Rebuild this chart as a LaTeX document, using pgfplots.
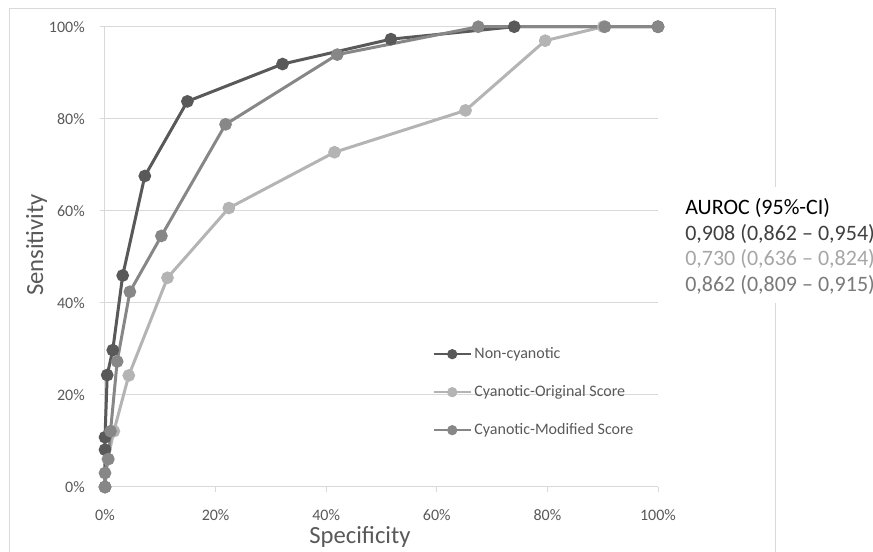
\documentclass[border=0pt]{standalone}
\usepackage{fontspec}
\setmainfont{Carlito}
\usepackage{pgfplots}
\pgfplotsset{compat=1.18}
\definecolor{cDark}{HTML}{595959}
\definecolor{cMid}{HTML}{878787}
\definecolor{cLight}{HTML}{B4B4B4}
\definecolor{cGrid}{HTML}{D9D9D9}
\definecolor{cText}{HTML}{595959}
\begin{document}
\begin{tikzpicture}
\begin{axis}[
  scale only axis, width=414.75pt, height=345.2pt,
  xmin=0, xmax=100, ymin=0, ymax=100,
  axis lines*=left,
  axis line style={cGrid, line width=0.75pt},
  xtick={0,20,40,60,80,100}, ytick={0,20,40,60,80,100},
  xticklabels={0\%,20\%,40\%,60\%,80\%,100\%},
  yticklabels={0\%,20\%,40\%,60\%,80\%,100\%},
  tick align=outside, major tick length=3.75pt,
  tick style={cGrid, line width=0.75pt},
  ymajorgrids, grid style={cGrid, line width=0.75pt},
  tick label style={font=\fontsize{12}{14}\selectfont, text=cText},
  xticklabel style={inner sep=0pt, anchor=north, yshift=-12.75pt},
  yticklabel style={inner sep=0pt, anchor=east, xshift=-11.25pt},
  xlabel={Specificity}, ylabel={Sensitivity},
  label style={font=\fontsize{18.5}{22}\selectfont, text=cText},
  xlabel style={at={(rel axis cs:0.461,-0.1217)}, anchor=base},
  ylabel style={at={(rel axis cs:-0.1121,0.5257)}, anchor=base},
  clip=false,
  legend style={at={(axis cs:59.2,20.6)}, anchor=west, draw=none, fill=none,
    inner sep=0pt, row sep=12.5pt,
    font=\fontsize{12}{14}\selectfont, text=cText,
    nodes={inner sep=2pt, text height=9pt, text depth=3pt}},
  legend cell align=left,
  legend image code/.code={\draw[mark repeat=2,mark phase=2] plot coordinates {(0pt,0pt) (13.9pt,0pt) (27.75pt,0pt)};},
]
% legend entries
\addlegendimage{cDark, line width=1.6pt, mark=*, mark size=3pt, mark options={solid}}
\addlegendentry{Non-cyanotic}
\addlegendimage{cLight, line width=1.6pt, mark=*, mark size=3pt, mark options={solid}}
\addlegendentry{Cyanotic-Original Score}
\addlegendimage{cMid, line width=1.6pt, mark=*, mark size=3pt, mark options={solid}}
\addlegendentry{Cyanotic-Modified Score}
% Cyanotic-Original Score
\addplot[forget plot, cLight, line width=2.25pt, mark=*, mark size=3.6pt, mark options={solid}] coordinates {
 (0,0) (0.5,6.06) (1.6,12.12) (4.3,24.24) (11.3,45.45) (22.4,60.61) (41.5,72.73) (65.2,81.82) (79.6,96.97) (90.1,100) (100,100)};
% Non-cyanotic
\addplot[forget plot, cDark, line width=2.25pt, mark=*, mark size=3.6pt, mark options={solid}] coordinates {
 (0,0) (0,8.11) (0,10.81) (0.4,24.32) (1.4,29.73) (3.2,45.95) (7.2,67.57) (14.9,83.78) (32.1,91.89) (51.7,97.30) (74.0,100) (100,100)};
% Cyanotic-Modified Score
\addplot[forget plot, cMid, line width=2.25pt, mark=*, mark size=3.6pt, mark options={solid}] coordinates {
 (0,0) (0,3.03) (0.6,6.06) (1.0,12.12) (2.2,27.27) (4.5,42.42) (10.2,54.55) (21.8,78.79) (42.0,93.94) (67.5,100) (90.4,100) (100,100)};
\end{axis}
\begin{scope}[x=0.75pt,y=0.75pt]
\draw[cGrid, line width=0.75pt] (-95,-90) rectangle (670,478);
\fill[white] (575,184) rectangle (768,300);
\begin{scope}[every node/.style={anchor=base west, inner sep=0pt, font=\fontsize{16.5}{19}\selectfont}]
\node[text=black] at (580,272) {AUROC (95\%-CI)};
\node[text=black!75] at (580,246.3) {0,908 (0,862 – 0,954)};
\node[text=black!35] at (580,221) {0,730 (0,636 – 0,824)};
\node[text=black!52] at (580,195.3) {0,862 (0,809 – 0,915)};
\end{scope}
\pgfresetboundingbox
\useasboundingbox (-105,-65) rectangle (768,487);
\end{scope}
\end{tikzpicture}
\end{document}
